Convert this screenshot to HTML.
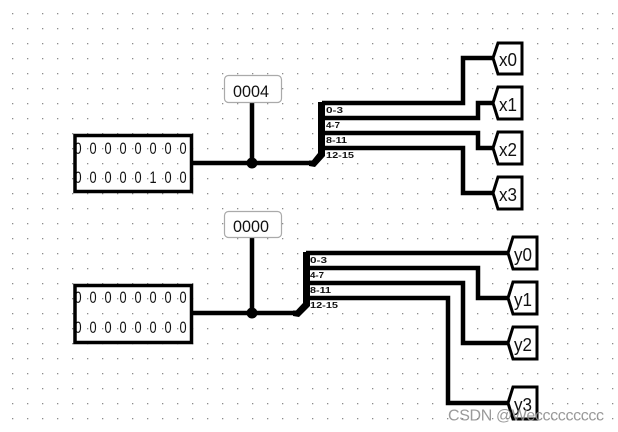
<!DOCTYPE html>
<html>
<head>
<meta charset="utf-8">
<style>
html,body{margin:0;padding:0;background:#fff;}
svg{display:block;}
text{font-family:"Liberation Sans",sans-serif;fill:#111;}
</style>
</head>
<body>
<svg width="618" height="432" viewBox="0 0 618 432" xmlns="http://www.w3.org/2000/svg">
<defs>
<pattern id="g" x="12" y="13" width="15" height="15" patternUnits="userSpaceOnUse">
<rect x="0" y="0" width="1.3" height="1.3" fill="#8c8c8c"/>
</pattern>
</defs>
<rect width="618" height="432" fill="#fff"/>
<rect width="618" height="432" fill="url(#g)"/>

<!-- Wires -->
<g fill="none" stroke="#000" stroke-width="4.5">
<path d="M193 163H312"/>
<path d="M252 102V163"/>
<path d="M322 103H463V58H493"/>
<path d="M322 118H478V103H493"/>
<path d="M322 133H478V148H493"/>
<path d="M322 148H463V193H493"/>
<path d="M193 313H297"/>
<path d="M252 237V313"/>
<path d="M306 253H508"/>
<path d="M306 268H478V298H508"/>
<path d="M306 283H463V343H508"/>
<path d="M306 298H448V403H508"/>
</g>
<!-- Splitters -->
<g fill="#000">
<path d="M318 102H325V156L315 167L309 166V160.500L312 160.500L318 153Z"/>
<path d="M303 252H310V306L299 317L293 316V310.500L296 310.500L303 303Z"/>
</g>
<circle cx="252" cy="163" r="5.500" fill="#000"/>
<circle cx="252" cy="313" r="5.500" fill="#000"/>

<!-- Splitter labels -->
<g font-size="8" font-weight="bold">
<text x="326" y="113" textLength="17" lengthAdjust="spacingAndGlyphs">0-3</text>
<text x="326" y="128" textLength="14" lengthAdjust="spacingAndGlyphs">4-7</text>
<text x="326" y="143" textLength="21" lengthAdjust="spacingAndGlyphs">8-11</text>
<text x="326" y="158" textLength="28" lengthAdjust="spacingAndGlyphs">12-15</text>
<text x="310" y="263" textLength="17" lengthAdjust="spacingAndGlyphs">0-3</text>
<text x="310" y="278" textLength="14" lengthAdjust="spacingAndGlyphs">4-7</text>
<text x="310" y="293" textLength="21" lengthAdjust="spacingAndGlyphs">8-11</text>
<text x="310" y="308" textLength="28" lengthAdjust="spacingAndGlyphs">12-15</text>
</g>

<!-- Input box digits -->
<g font-size="17" transform="translate(74.500,0) scale(0.75,1)">
<text x="0 20 40 60 80 100 120 140" y="154">00000000</text>
<text x="0 20 40 60 80 100 120 140" y="183">00000100</text>
<text x="0 20 40 60 80 100 120 140" y="303">00000000</text>
<text x="0 20 40 60 80 100 120 140" y="333">00000000</text>
</g>
<!-- Input boxes -->
<rect x="75" y="135.500" width="116.500" height="56" fill="none" stroke="#000" stroke-width="3.500"/>
<rect x="75" y="285.500" width="116.500" height="57" fill="none" stroke="#000" stroke-width="3.500"/>

<!-- Probes -->
<rect x="224.500" y="75.500" width="57" height="27" rx="4" fill="#fff" stroke="#aaa" stroke-width="1.200"/>
<rect x="224.500" y="211.500" width="57" height="26" rx="4" fill="#fff" stroke="#aaa" stroke-width="1.200"/>
<text x="233" y="97" font-size="17" textLength="36" lengthAdjust="spacingAndGlyphs">0004</text>
<text x="233" y="232" font-size="17" textLength="36" lengthAdjust="spacingAndGlyphs">0000</text>

<!-- Output pins -->
<g fill="#fff" stroke="#000" stroke-width="3">
<path d="M493 58L498 43H522V74H498Z"/>
<path d="M493 103L498 87H522V119H498Z"/>
<path d="M493 148L498 132H522V164H498Z"/>
<path d="M493 193L498 177H522V209H498Z"/>
<path d="M508 253L513 237H537V269H513Z"/>
<path d="M508 298L513 282H537V314H513Z"/>
<path d="M508 343L513 327H537V359H513Z"/>
<path d="M508 403L513 387H537V419H513Z"/>
</g>
<g font-size="18">
<text x="499" y="66" textLength="18" lengthAdjust="spacingAndGlyphs">x0</text>
<text x="499" y="111" textLength="18" lengthAdjust="spacingAndGlyphs">x1</text>
<text x="499" y="156" textLength="18" lengthAdjust="spacingAndGlyphs">x2</text>
<text x="499" y="201" textLength="18" lengthAdjust="spacingAndGlyphs">x3</text>
<text x="514" y="261" textLength="18" lengthAdjust="spacingAndGlyphs">y0</text>
<text x="514" y="306" textLength="18" lengthAdjust="spacingAndGlyphs">y1</text>
<text x="514" y="351" textLength="18" lengthAdjust="spacingAndGlyphs">y2</text>
<text x="514" y="411" textLength="18" lengthAdjust="spacingAndGlyphs">y3</text>
</g>

<!-- Watermark -->
<text x="448" y="420.500" font-size="16" style="fill:#8f8f8f" fill-opacity="0.9" textLength="156">CSDN @Weccccccccc</text>
</svg>
</body>
</html>
